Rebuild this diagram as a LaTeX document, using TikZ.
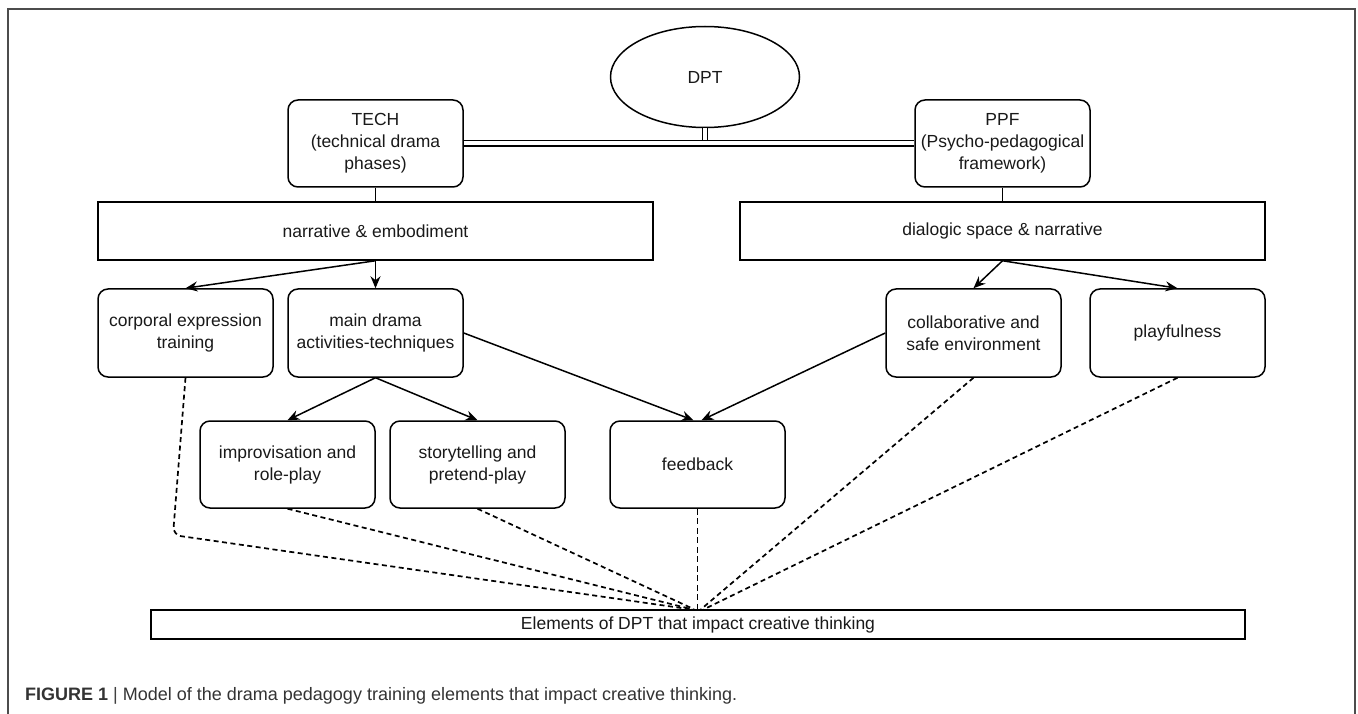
\documentclass[tikz,border=0pt]{standalone}
\usepackage{fontspec}
\setmainfont{Liberation Sans}
\usetikzlibrary{arrows.meta,shapes.geometric,calc}
\begin{document}
\begin{tikzpicture}[x=1pt,y=-1pt,
  every node/.style={font=\fontsize{17.5}{22}\selectfont, inner sep=0pt, align=center, text=black!90},
  rbox/.style={draw, line width=1.5pt, rounded corners=10pt, minimum width=175pt, minimum height=87pt},
  sbox/.style={draw, line width=1.5pt, minimum height=58pt},
  arr/.style={line width=1.5pt, -{Stealth[length=12pt,width=10pt,inset=4pt]}},
  dsh/.style={line width=1.7pt, dash pattern=on 5pt off 3.5pt},
  conn/.style={line width=1.5pt},
  dbl/.style={double, double distance=4pt, line width=1.2pt}
]
\useasboundingbox (0,0) rectangle (1358,714);
% outer frame
\draw[line width=1.6pt, black!70] (8,714) -- (8,9) -- (1355,9) -- (1355,714);

% nodes
\node[draw, ellipse, line width=1.5pt, minimum width=189pt, minimum height=101pt] (dpt) at (705,77) {DPT};
\node[rbox] (tech) at (375.5,143.5) {TECH\\(technical drama\\phases)};
\node[rbox] (ppf) at (1002.5,143.5) {PPF\\(Psycho-pedagogical\\framework)};
\node[sbox, minimum width=555pt] (narr) at (375.5,231) {narrative \& embodiment};
\node[sbox, minimum width=525pt] (dial) at (1002.5,231) {dialogic space \& narrative};
\node[rbox, minimum height=88pt] (corp) at (185.5,333) {corporal expression\\training};
\node[rbox, minimum height=88pt] (main) at (375.5,333) {main drama\\activities-techniques};
\node[rbox, minimum height=88pt] (coll) at (973.5,333) {collaborative and\\safe environment};
\node[rbox, minimum height=88pt] (play) at (1177.5,333) {playfulness};
\node[rbox] (impr) at (287.5,464.5) {improvisation and\\role-play};
\node[rbox] (story) at (477.5,464.5) {storytelling and\\pretend-play};
\node[rbox] (feed) at (697.5,464.5) {feedback};
\node[draw, line width=1.5pt, minimum width=1094pt, minimum height=29pt] (elem) at (698,624.5) {Elements of DPT that impact creative thinking};

% caption
\node[anchor=base west, font=\fontsize{18}{22}\selectfont, text=black!80] (cap) at (25,700)
  {\textbf{FIGURE 1} {\color{black!75}|} Model of the drama pedagogy training elements that impact creative thinking.};

% double connectors
\draw[dbl] (tech.east) -- (ppf.west);
\coordinate (dj) at (705,140.5);
\draw[dbl] (dpt.south) -- (dj);

% plain connectors
\draw[conn] (tech.south) -- (narr.north);
\draw[conn] (ppf.south) -- (dial.north);

% arrows
\draw[arr] (narr.south) -- (corp.north);
\draw[arr] (narr.south) -- (main.north);
\draw[arr] (dial.south) -- (coll.north);
\draw[arr] (dial.south) -- (play.north);
\draw[arr] (main.south) -- (impr.north);
\draw[arr] (main.south) -- (story.north);
\coordinate (fa) at ($(feed.north)+(-4,0)$);
\coordinate (fb) at ($(feed.north)+(4,0)$);
\draw[arr] (main.east) -- (fa);
\draw[arr] (coll.west) -- (fb);

% dashed convergent lines
\coordinate (e1) at ($(elem.north)+(-8,0)$);
\coordinate (e2) at ($(elem.north)+(-6,0)$);
\coordinate (e3) at ($(elem.north)+(-4,0)$);
\coordinate (e4) at (feed.south |- elem.north);
\coordinate (e5) at ($(elem.north)+(3,0)$);
\coordinate (e6) at ($(elem.north)+(6,0)$);
\coordinate (cbend) at (173,535);
\draw[dsh, rounded corners=8pt] (corp.south) -- (cbend) -- (e1);
\draw[dsh] (impr.south) -- (e2);
\draw[dsh] (story.south) -- (e3);
\draw[line width=1.2pt, dash pattern=on 6pt off 3.5pt] (feed.south) -- (e4);
\draw[dsh] (coll.south) -- (e5);
\draw[dsh] (play.south) -- (e6);
\end{tikzpicture}
\end{document}
